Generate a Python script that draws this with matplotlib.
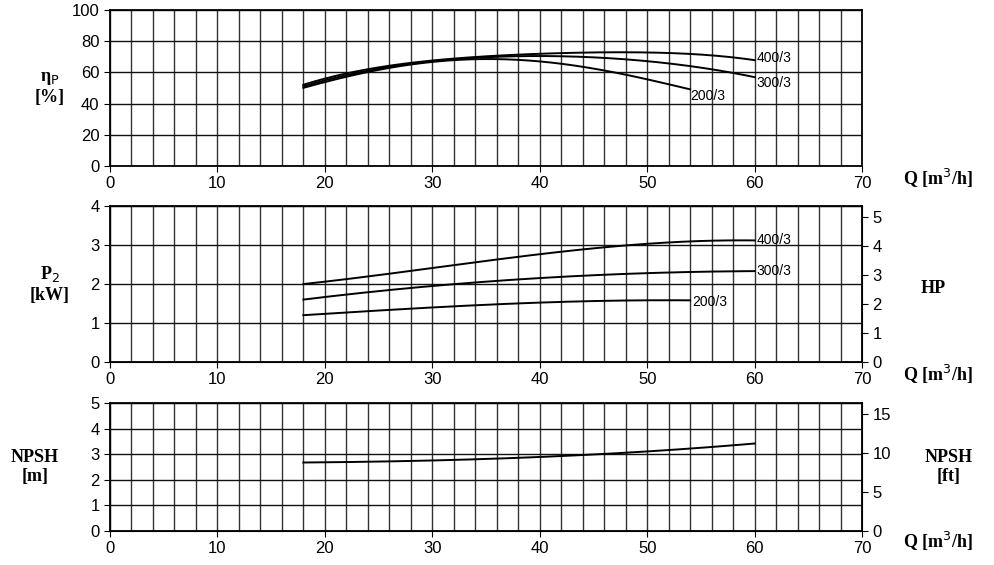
import matplotlib
matplotlib.use("Agg")
import matplotlib.pyplot as plt
import numpy as np

plt.rcParams['font.family'] = ['Liberation Sans', 'DejaVu Sans']

q_eff_200 = [18, 20, 25, 30, 35, 40, 45, 50, 54]
eff_200 = [50, 54, 61.5, 66.5, 69, 67, 62, 56, 49]
q_eff_300 = [18, 25, 30, 35, 40, 45, 50, 55, 60]
eff_300 = [51, 62.5, 67, 69.5, 70.5, 70, 67, 63, 57]
q_eff_400 = [18, 25, 30, 35, 40, 45, 50, 55, 60]
eff_400 = [52, 63.5, 67.5, 70, 72, 73, 73, 71, 68]

q_p_400 = [18, 30, 40, 50, 60]
p_400 = [2.0, 2.4, 2.78, 3.02, 3.12]
q_p_300 = [18, 30, 40, 50, 60]
p_300 = [1.6, 1.95, 2.15, 2.28, 2.33]
q_p_200 = [18, 30, 40, 48, 54]
p_200 = [1.2, 1.4, 1.52, 1.58, 1.58]

q_npsh = [18, 25, 30, 40, 50, 60]
npsh = [2.68, 2.7, 2.76, 2.9, 3.1, 3.42]

serif = dict(family='Liberation Serif', fontweight='bold', fontsize=13)

def smooth(x, y, deg=3):
    xs = np.linspace(x[0], x[-1], 200)
    c = np.polyfit(x, y, min(deg, len(x) - 1))
    return xs, np.polyval(c, xs)

fig = plt.figure(figsize=(9.94, 5.65), dpi=100)
L, W = 110/994, 752/994
axes = [fig.add_axes([L, 1-166/565, W, 156/565]),
        fig.add_axes([L, 1-362/565, W, 156/565]),
        fig.add_axes([L, 1-531/565, W, 128/565])]
ylims = [(0, 100, 20), (0, 4, 1), (0, 5, 1)]
for ax, (lo, hi, st) in zip(axes, ylims):
    ax.set_xlim(0, 70)
    ax.set_ylim(lo, hi)
    ax.set_xticks(range(0, 71, 10))
    ax.set_xticks(range(0, 71, 2), minor=True)
    ax.set_yticks(np.arange(lo, hi + st/2, st))
    ax.grid(True, which='both', axis='x', color='#333', lw=1)
    ax.grid(True, which='major', axis='y', color='#111', lw=1)
    ax.tick_params(labelsize=12, length=4, which='major')
    ax.tick_params(which='minor', length=0)
    for s in ax.spines.values():
        s.set_linewidth(1.3)
    ax.text(1.055, -0.08, 'Q [m$^3$/h]', transform=ax.transAxes, ha='left', va='center', **serif)

a = axes[0]
for x, y in [(q_eff_200, eff_200), (q_eff_300, eff_300), (q_eff_400, eff_400)]:
    xs, ys = smooth(x, y, 4)
    a.plot(xs, ys, color='black', lw=1.4)
a.text(54, 45, '200/3', fontsize=10, ha='left', va='center')
a.text(60.2, 57.5, '300/3', fontsize=10, ha='left', va='top')
a.text(60.2, 65, '400/3', fontsize=10, ha='left', va='bottom')
a.text(-0.08, 0.5, 'η$_\\mathrm{P}$\n[%]', transform=a.transAxes, ha='center', va='center', **serif)

a = axes[1]
for x, y in [(q_p_400, p_400), (q_p_300, p_300), (q_p_200, p_200)]:
    xs, ys = smooth(x, y)
    a.plot(xs, ys, color='black', lw=1.4)
a.text(60.2, 3.12, '400/3', fontsize=10, va='center')
a.text(60.2, 2.33, '300/3', fontsize=10, va='center')
a.text(54.2, 1.55, '200/3', fontsize=10, va='center')
a.text(-0.08, 0.5, 'P$_2$\n[kW]', transform=a.transAxes, ha='center', va='center', **serif)
r = a.twinx()
r.set_ylim(0, 4 * 1.341)
r.set_yticks(range(0, 6))
r.tick_params(labelsize=12, length=4)
r.text(1.095, 0.47, 'HP', transform=r.transAxes, ha='center', va='center', **serif)

a = axes[2]
xs, ys = smooth(q_npsh, npsh)
a.plot(xs, ys, color='black', lw=1.4)
a.text(-0.1, 0.5, 'NPSH\n[m]', transform=a.transAxes, ha='center', va='center', **serif)
r = a.twinx()
r.set_ylim(0, 5 * 3.2808)
r.set_yticks(range(0, 16, 5))
r.tick_params(labelsize=12, length=4)
r.text(1.115, 0.5, 'NPSH\n[ft]', transform=r.transAxes, ha='center', va='center', **serif)

fig.savefig('out.png', dpi=100)
